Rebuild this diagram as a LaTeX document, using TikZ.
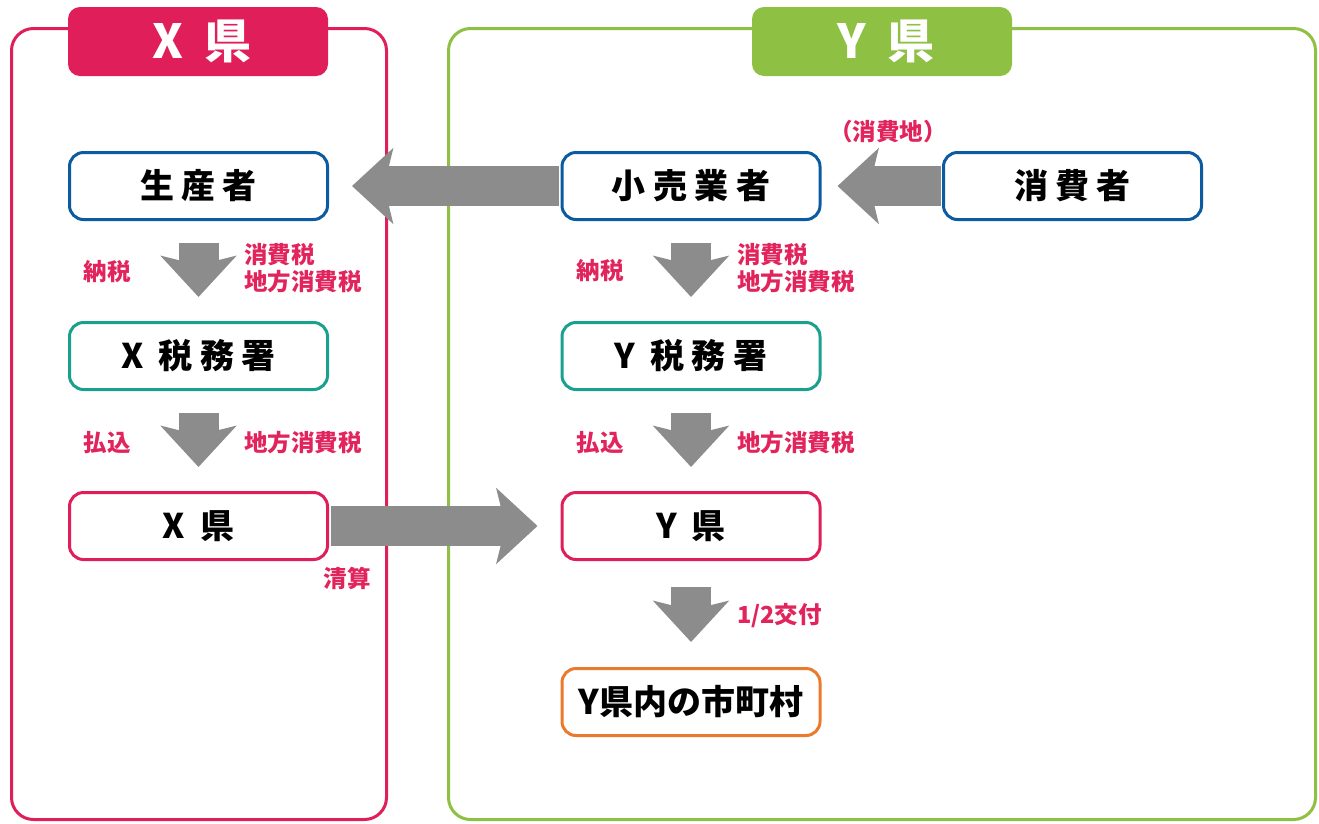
\documentclass[tikz,border=0pt]{standalone}
\usepackage{fontspec}
\setmainfont{Noto Sans CJK JP}
\newfontfamily\spacedfont[LetterSpace=22]{Noto Sans CJK JP}
\usetikzlibrary{arrows.meta}
\definecolor{xpink}{RGB}{224,30,90}
\definecolor{ygreen}{RGB}{141,192,67}
\definecolor{boxblue}{RGB}{12,90,160}
\definecolor{boxteal}{RGB}{26,160,142}
\definecolor{boxorange}{RGB}{234,122,44}
\definecolor{arrowgray}{RGB}{140,140,140}
\definecolor{labelred}{RGB}{226,36,92}
\tikzset{
  panel/.style={draw, line width=3pt, rounded corners=22pt},
  tab/.style={rounded corners=12pt, minimum width=260pt, minimum height=69pt, inner sep=0pt, text=white, font=\spacedfont\bfseries\fontsize{47}{47}\selectfont},
  actor/.style={draw, line width=3pt, rounded corners=14pt, fill=white, text=black, minimum width=258pt, minimum height=67pt, inner sep=0pt, font=\spacedfont\bfseries\fontsize{34}{34}\selectfont},
  flow/.style={arrowgray, line width=40pt, -{Stealth[length=41pt, width=75pt, inset=9pt]}},
  note/.style={text=labelred, inner sep=0pt, align=left, font=\bfseries\fontsize{23.5}{27}\selectfont},
}
\begin{document}
\begin{tikzpicture}[x=1pt, y=-1pt]
	\useasboundingbox (0,0) rectangle (1319,823);
	\draw[panel, xpink] (11.5,28.5) rectangle (386.5,819.5);
	\draw[panel, ygreen] (448.5,28.5) rectangle (1315.5,819.5);
	\node[tab, fill=xpink] at (198,41.5) (xtitle) {\hspace{8pt}X 県};
	\node[tab, fill=ygreen] at (882,41.5) (ytitle) {\hspace{8pt}Y 県};
	
	\node[actor, draw=boxblue] at (198.5,186) (seisan) {生産者};
	\node[actor, draw=boxblue] at (691,186) (kouri) {小売業者};
	\node[actor, draw=boxblue] at (1072.5,186) (shouhi) {消費者};
	\node[actor, draw=boxteal] at (198.5,356) (xzeimu) {X 税務署};
	\node[actor, draw=boxteal] at (691,356) (yzeimu) {Y 税務署};
	\node[actor, draw=xpink] at (198.5,526) (xken) {X 県};
	\node[actor, draw=xpink] at (691,526) (yken) {Y 県};
	\node[actor, draw=boxorange, font=\bfseries\fontsize{34}{34}\selectfont] at (691,702) (shichouson) {Y県内の市町村};
	
	\draw[flow] ([xshift=-1.5pt]kouri.west) -- ([xshift=23pt]seisan.east);
	\draw[flow] ([xshift=-1.5pt]shouhi.west) -- ([xshift=16pt]kouri.east);
	\draw[flow] ([xshift=1.5pt]xken.east) -- ([xshift=-23pt]yken.west);
	\draw[flow] ([yshift=-22pt]seisan.south) -- ([yshift=24pt]xzeimu.north);
	\draw[flow] ([yshift=-22pt]xzeimu.south) -- ([yshift=24pt]xken.north);
	\draw[flow] ([yshift=-22pt]kouri.south) -- ([yshift=24pt]yzeimu.north);
	\draw[flow] ([yshift=-22pt]yzeimu.south) -- ([yshift=24pt]yken.north);
	\draw[flow] ([yshift=-26pt]yken.south) -- ([yshift=25pt]shichouson.north);
	
	\node[note] at (107,272) (xnouzei) {納税};
	\node[note, anchor=west] at (244,268) (xshouhizei) {消費税\\地方消費税};
	\node[note] at (107,443) (xharai) {払込};
	\node[note, anchor=west] at (244,443) (xchihou) {地方消費税};
	\node[note] at (600,271) (ynouzei) {納税};
	\node[note, anchor=west] at (737,268) (yshouhizei) {消費税\\地方消費税};
	\node[note] at (600,443) (yharai) {払込};
	\node[note, anchor=west] at (737,443) (ychihou) {地方消費税};
	\node[note] at (347,578) (seisanlabel) {清算};
	\node[note, anchor=west] at (737,616) (koufu) {1/2交付};
	\node[note] at (888,132) (shouhichi) {（消費地）};
\end{tikzpicture}
\end{document}
